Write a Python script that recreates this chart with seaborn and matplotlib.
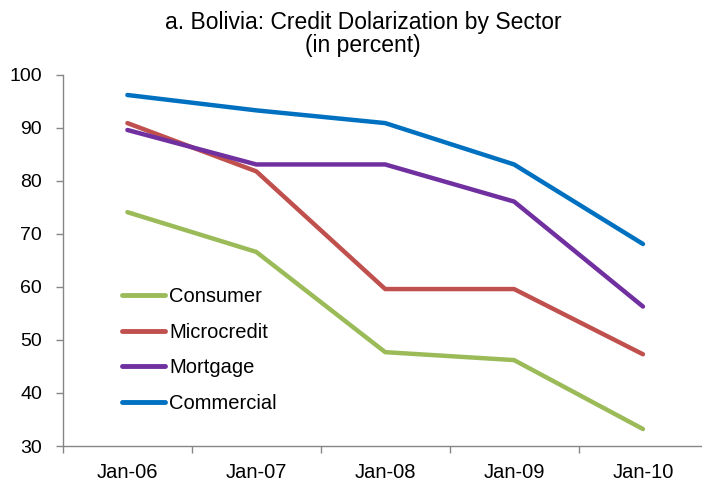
import matplotlib
matplotlib.use("Agg")
import matplotlib.pyplot as plt
import seaborn as sns
import pandas as pd
import numpy as np

# data
dates = ["Jan-06", "Jan-07", "Jan-08", "Jan-09", "Jan-10"]
consumer = [74.1, 66.6, 47.7, 46.2, 33.2]
microcredit = [90.9, 81.8, 59.6, 59.6, 47.3]
mortgage = [89.6, 83.1, 83.1, 76.1, 56.3]
commercial = [96.2, 93.3, 90.9, 83.1, 68.1]

sectors = ["Consumer", "Microcredit", "Mortgage", "Commercial"]
colors = ["#9BBB59", "#C0504D", "#7030A0", "#0070C0"]


def main():
	sns.set_style("white")
	plt.rcParams['font.family'] = ['Liberation Sans', 'DejaVu Sans']
	plt.rcParams['text.color'] = 'black'

	rows = []
	for name, vals in zip(sectors, [consumer, microcredit, mortgage, commercial]):
		for i, v in enumerate(vals):
			rows.append({"pos": i, "value": v, "sector": name})
	df = pd.DataFrame(rows)

	fig = plt.figure(figsize=(7.02, 4.86), dpi=100)
	ax = fig.add_axes([0.0897, 0.0823, 0.918, 0.7637])
	sns.lineplot(data=df, x="pos", y="value", hue="sector", hue_order=sectors,
			palette=colors, linewidth=3.2, ax=ax, solid_capstyle='round')

	ax.set_xlim(-0.5, len(dates) - 0.5)
	ax.set_ylim(30, 100)
	ax.set_yticks(np.arange(30, 101, 10))
	ax.set_xticks(range(len(dates)))
	ax.set_xticklabels(dates)
	ax.set_xticks(np.arange(-0.5, len(dates), 1.0), minor=True)
	ax.tick_params(axis='x', which='major', length=0, pad=12.5, labelsize=14.5, labelcolor='black')
	ax.tick_params(axis='x', which='minor', length=5, color='#868686', width=1, bottom=True)
	ax.tick_params(axis='y', length=5, color='#868686', width=1, left=True, labelsize=14, pad=10,
			labelcolor='black')
	ax.set_xlabel("")
	ax.set_ylabel("")

	for s in ['top', 'right']:
		ax.spines[s].set_visible(False)
	for s in ['left', 'bottom']:
		ax.spines[s].set_color('#868686')
		ax.spines[s].set_linewidth(1)

	leg = ax.legend(loc='lower left', bbox_to_anchor=(0.0915, 0.09), frameon=False,
			borderaxespad=0, borderpad=0,
			fontsize=14.5, handlelength=2.14, handletextpad=0.2, labelspacing=0.82)
	for line in leg.get_lines():
		line.set_linewidth(3.5)
	for t in leg.get_texts():
		t.set_color('black')

	fig.text(0.517, 1 - 29 / 486, "a. Bolivia: Credit Dolarization by Sector",
			ha='center', va='baseline', fontsize=16.5, color='black')
	fig.text(0.517, 1 - 52 / 486, "(in percent)",
			ha='center', va='baseline', fontsize=16.5, color='black')

	fig.savefig("out.png", dpi=100)


if __name__ == '__main__':
	main()
